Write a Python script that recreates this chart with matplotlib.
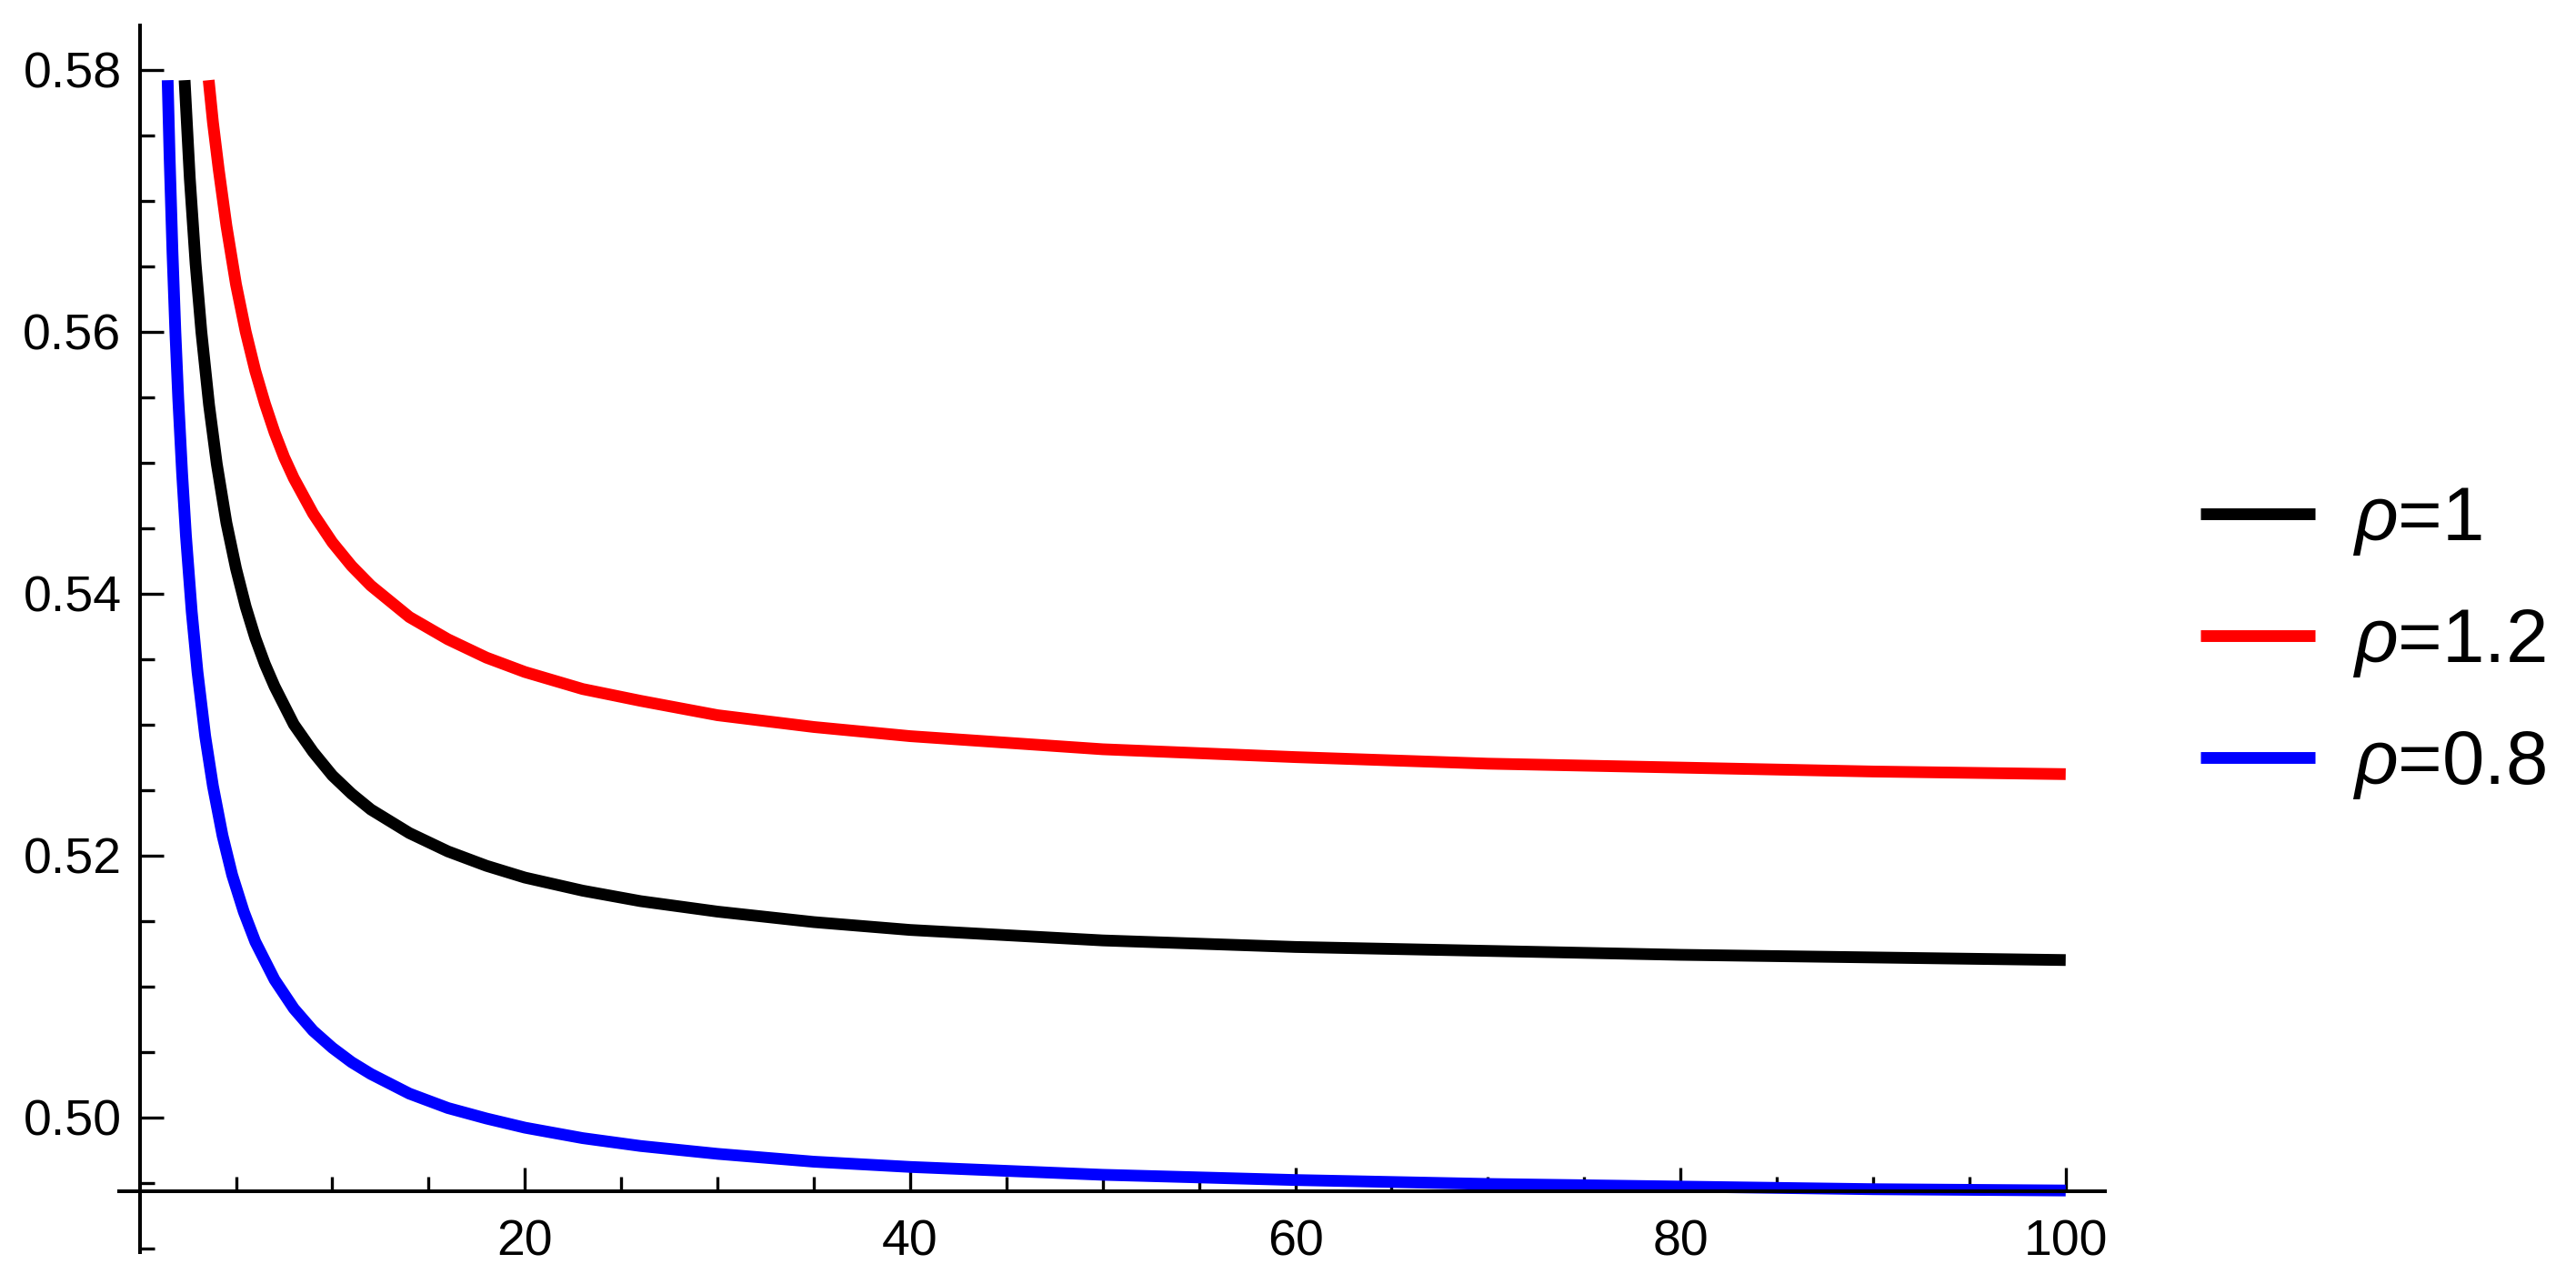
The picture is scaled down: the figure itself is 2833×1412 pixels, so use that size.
import matplotlib
matplotlib.use("Agg")
import matplotlib.pyplot as plt
from matplotlib.ticker import FixedLocator, FormatStrFormatter

plt.rcParams['font.family'] = ['Liberation Sans', 'DejaVu Sans']
plt.rcParams['mathtext.fontset'] = 'custom'
plt.rcParams['mathtext.it'] = 'Liberation Sans:italic'
plt.rcParams['mathtext.rm'] = 'Liberation Sans'

# значення
x_rho1 = [2.33, 2.6, 2.9, 3.2, 3.6, 4.0, 4.5, 5.0, 5.5, 6.0, 6.5, 7.0, 8.0, 9.0,
          10, 11, 12, 14, 16, 18, 20, 23, 26, 30, 35, 40, 50, 60, 70, 80, 90, 100]
y_rho1 = [0.5792, 0.5717, 0.5652, 0.5600, 0.5544, 0.5499, 0.5454, 0.5419, 0.5390,
          0.5366, 0.5346, 0.5329, 0.5300, 0.5279, 0.5261, 0.5247, 0.5235, 0.5217,
          0.5203, 0.5192, 0.5183, 0.5173, 0.5165, 0.5157, 0.5149, 0.5143, 0.5135,
          0.5130, 0.5127, 0.5124, 0.5122, 0.5120]

x_rho12 = [3.58, 3.8, 4.1, 4.5, 5.0, 5.5, 6.0, 6.5, 7.0, 7.5, 8, 9, 10, 11, 12, 14,
           16, 18, 20, 23, 26, 30, 35, 40, 50, 60, 70, 80, 90, 100]
y_rho12 = [0.5792, 0.5760, 0.5724, 0.5681, 0.5636, 0.5600, 0.5570, 0.5545, 0.5523,
           0.5504, 0.5488, 0.5461, 0.5439, 0.5421, 0.5406, 0.5382, 0.5365, 0.5351,
           0.5340, 0.5327, 0.5318, 0.5307, 0.5298, 0.5291, 0.5281, 0.5275, 0.5270,
           0.5267, 0.5264, 0.5262]

x_rho08 = [1.45, 1.55, 1.7, 1.85, 2.0, 2.2, 2.4, 2.7, 3.0, 3.4, 3.8, 4.3, 4.8, 5.4,
           6.0, 7.0, 8.0, 9.0, 10, 11, 12, 14, 16, 18, 20, 23, 26, 30, 35, 40, 50,
           60, 70, 80, 90, 100]
y_rho08 = [0.5792, 0.5734, 0.5661, 0.5600, 0.5549, 0.5492, 0.5444, 0.5386, 0.5340,
           0.5291, 0.5253, 0.5215, 0.5185, 0.5157, 0.5134, 0.5105, 0.5083, 0.5066,
           0.5053, 0.5042, 0.5033, 0.5018, 0.5007, 0.4999, 0.4992, 0.4984, 0.4978,
           0.4972, 0.4966, 0.4962, 0.4956, 0.4952, 0.4949, 0.4947, 0.4945, 0.4944]

labels = [r'$\rho$=1', r'$\rho$=1.2', r'$\rho$=0.8']
colors = ['black', '#ff0000', '#0000ff']

x_major = [20, 40, 60, 80, 100]
x_minor = [5, 10, 15, 25, 30, 35, 45, 50, 55, 65, 70, 75, 85, 90, 95]
y_major = [0.50, 0.52, 0.54, 0.56, 0.58]
y_minor = [0.49, 0.495, 0.505, 0.51, 0.515, 0.525, 0.53, 0.535, 0.545, 0.55,
           0.555, 0.565, 0.57, 0.575]

fig = plt.figure(figsize=(28.33, 14.12), dpi=100)
ax = fig.add_axes([0.04624, 0.02479, 0.77091, 0.95538])

lw = 9.3
for xs, ys, lab, c in zip([x_rho1, x_rho12, x_rho08], [y_rho1, y_rho12, y_rho08],
                          labels, colors):
    ax.plot(xs, ys, color=c, lw=lw, label=lab, solid_joinstyle='round',
            solid_capstyle='butt')

ax.set_xlim(-1.07, 102.04)
ax.set_ylim(0.48969, 0.58338)

ax.spines['top'].set_visible(False)
ax.spines['right'].set_visible(False)
ax.spines['left'].set_position(('data', 0))
ax.spines['bottom'].set_position(('data', 0.49435))
for s in ['left', 'bottom']:
    ax.spines[s].set_linewidth(2.9)

ax.xaxis.set_major_locator(FixedLocator(x_major))
ax.xaxis.set_minor_locator(FixedLocator(x_minor))
ax.yaxis.set_major_locator(FixedLocator(y_major))
ax.yaxis.set_minor_locator(FixedLocator(y_minor))
ax.yaxis.set_major_formatter(FormatStrFormatter('%.2f'))

ax.tick_params(axis='both', which='major', direction='in', length=18.5, width=2.4,
               labelsize=40)
ax.tick_params(axis='both', which='minor', direction='in', length=11.3, width=2.4)
ax.tick_params(axis='y', which='major', pad=14.5)
ax.tick_params(axis='x', which='major', pad=22)

leg = fig.legend(loc='center left', bbox_to_anchor=(0.8542, 0.4993), frameon=False,
                 fontsize=60, handlelength=1.51, handletextpad=0.5,
                 labelspacing=0.645, borderpad=0, borderaxespad=0)

fig.savefig('out.png', dpi=100)
